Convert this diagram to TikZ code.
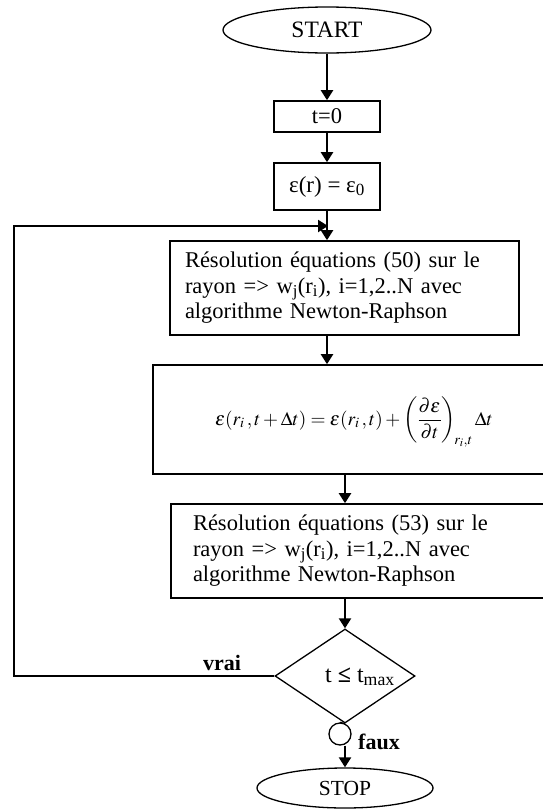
\documentclass[tikz,border=0pt]{standalone}
\usepackage{mathptmx}
\usepackage{fontspec}
\setmainfont{Liberation Serif}
\usetikzlibrary{arrows.meta,shapes.geometric,calc}
\tikzset{
  x=1pt,y=1pt,
  boxst/.style={draw,line width=1.6pt,rectangle,inner sep=0pt},
  ellst/.style={draw,line width=1.3pt,ellipse,inner sep=0pt},
  arr/.style={line width=2.2pt,-{Triangle[length=10pt,width=12pt]}},
  lin/.style={line width=2pt},
  lbl/.style={font=\fontsize{22}{26}\selectfont\bfseries,inner sep=0pt},
  btxt/.style={align=left,font=\fontsize{22.5}{25.5}\selectfont},
}
\begin{document}
\begin{tikzpicture}
\useasboundingbox (0,0) rectangle (543,-809);
\node[ellst,minimum width=208pt,minimum height=46pt,font=\fontsize{23.5}{27}\selectfont] (start) at (327,-30) {START};
\node[boxst,minimum width=106pt,minimum height=31pt,font=\fontsize{22.5}{26}\selectfont] (t0) at (327,-116.5) {t=0};
\node[boxst,minimum width=106pt,minimum height=47pt,font=\fontsize{23}{26}\selectfont] (eps) at (327,-186.5) {ε(r) = ε\textsubscript{0}};
\node[boxst,btxt,minimum width=349pt,minimum height=94pt,inner xsep=15pt,text width=319pt] (box1) at (344.5,-288) {Résolution équations (50) sur le\\rayon => w\textsubscript{j}(r\textsubscript{i}), i=1,2..N avec\\algorithme Newton-Raphson};
\node[boxst,minimum width=392pt,minimum height=109pt] (box2) at (349,-419.5) {};
\node[inner sep=0pt,font=\fontsize{19.3}{23}\selectfont] (eq) at (354,-422) {$\displaystyle\varepsilon(r_i\,,t+\Delta t)=\varepsilon(r_i\,,t)+\left(\frac{\partial\varepsilon}{\partial t}\right)_{\!r_i,t}\Delta t$};
\node[boxst,btxt,minimum width=374pt,minimum height=94pt,inner xsep=22pt,text width=330pt] (box3) at (358,-551) {Résolution équations (53) sur le\\rayon => w\textsubscript{j}(r\textsubscript{i}), i=1,2..N avec\\algorithme Newton-Raphson};
\node[diamond,draw,line width=1.3pt,minimum width=140pt,minimum height=94pt,inner sep=0pt] (dec) at (345,-676) {};
\node[inner sep=0pt,font=\fontsize{24}{28}\selectfont,anchor=base] (dectxt) at (360,-682) {t \textbf{≤} t\textsubscript{max}};
\node[circle,draw,line width=1.3pt,minimum size=22pt,inner sep=0pt] (conn) at (340,-734) {};
\node[ellst,minimum width=176pt,minimum height=40pt,font=\fontsize{21.5}{25}\selectfont] (stop) at (345,-788) {STOP};
\coordinate (lb) at (14,-676);
\coordinate (lt) at (14,-226);
\coordinate (lj) at (328,-226);
\draw[arr] (start.south -| t0.north) -- (t0.north);
\draw[arr] (t0.south) -- (eps.north);
\draw[arr] (eps.south) -- (eps.south |- box1.north);
\draw[arr] (eps.south |- box1.south) -- (eps.south |- box2.north);
\draw[arr] (dec.north |- box2.south) -- (dec.north |- box3.north);
\draw[arr] (dec.north |- box3.south) -- (dec.north);
\draw[lin] (dec.west) -- (lb) -- (lt) -- (lj);
\draw[arr] (lt) -- (lj);
\draw[line width=1.3pt] (dec.south) -- (conn.north);
\draw[arr] (conn.south -| stop.north) -- (stop.north);
\node[lbl,anchor=base west] (vrai) at (203,-670) {vrai};
\node[lbl,anchor=base west] (faux) at (358,-749) {faux};
\end{tikzpicture}
\end{document}
